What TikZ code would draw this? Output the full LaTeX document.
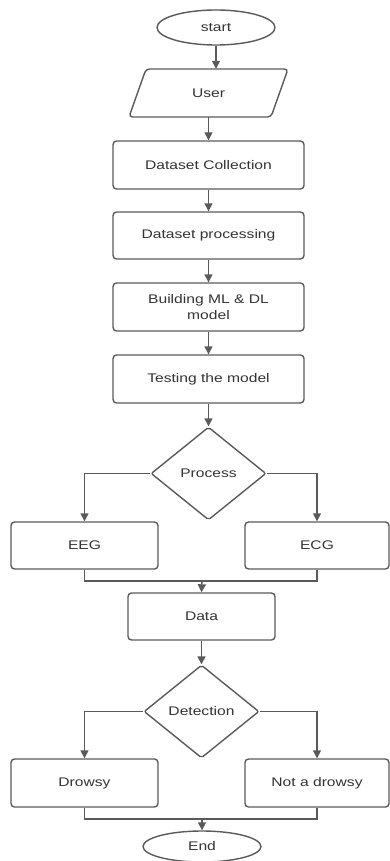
\documentclass[tikz,border=0pt]{standalone}
\usepackage{fontspec}
\setmainfont{Liberation Sans}[FakeStretch=1.25]
\usetikzlibrary{shapes.geometric,arrows.meta}
\definecolor{linec}{HTML}{5A5A5A}
\definecolor{textc}{HTML}{333333}
\begin{document}
\begin{tikzpicture}[x=1pt,y=-1pt,
  every node/.style={font=\fontsize{12.5}{16}\selectfont, text=textc},
  box/.style={draw=linec, line width=1.4pt, rounded corners=3.5pt, minimum width=191, minimum height=48, inner sep=0pt, align=center},
  sbox/.style={box, minimum width=147, minimum height=47},
  term/.style={draw=linec, line width=1.4pt, ellipse, minimum width=118, minimum height=35, inner sep=0pt},
  dec/.style={draw=linec, line width=1.4pt, diamond, minimum width=115, minimum height=93, inner sep=0pt, rounded corners=2pt},
  arr/.style={draw=linec, line width=1.4pt, -{Triangle[length=8pt,width=8pt]}},
  ln/.style={draw=linec, line width=1.4pt}]
\useasboundingbox (0,0) rectangle (390,861);

\node[term] (start) at (216,27.5) {start};
\draw[linec, line width=1.4pt, rounded corners=3.5pt] (146,69) -- (288,69) -- (271,117) -- (129,117) -- cycle;
\node[minimum width=150, minimum height=48, inner sep=0pt] (user) at (208.5,93) {User};
\node[box] (dc) at (208.5,165) {Dataset Collection};
\node[box, minimum height=47] (dp) at (208.5,235.5) {Dataset processing};
\node[box] (build) at (208.5,307) {Building ML \& DL\\model};
\node[box] (test) at (208.5,379) {Testing the model};
\node[dec] (proc) at (208.5,473.5) {Process};
\node[sbox] (eeg) at (84.5,545.5) {EEG};
\node[sbox, minimum width=144] (ecg) at (317,545.5) {ECG};
\node[sbox] (data) at (201.5,616.5) {Data};
\node[dec] (det) at (201.5,711.5) {Detection};
\node[sbox, minimum height=48] (drowsy) at (84.5,783) {Drowsy};
\node[sbox, minimum width=144, minimum height=48] (notd) at (317,783) {Not a drowsy};
\node[term, minimum height=31] (end) at (202,846.5) {End};

\draw[arr] (start.south) -- (start.south |- user.north);
\draw[arr] (user.south) -- (dc.north);
\draw[arr] (dc) -- (dp);
\draw[arr] (dp) -- (build);
\draw[arr] (build) -- (test);
\draw[arr] (test) -- (proc);
\draw[arr] (proc.west) -| (eeg.north);
\draw[arr] (proc.east) -| (ecg.north);
\coordinate (m1) at (202,581);
\draw[ln] (eeg.south) |- (m1) -| (ecg.south);
\draw[arr] (m1) -- (data.north);
\draw[arr] (data) -- (det);
\draw[arr] (det.west) -| (drowsy.north);
\draw[arr] (det.east) -| (notd.north);
\coordinate (m2) at (202,819);
\draw[ln] (drowsy.south) |- (m2) -| (notd.south);
\draw[arr] (m2) -- (end.north);
\end{tikzpicture}
\end{document}
